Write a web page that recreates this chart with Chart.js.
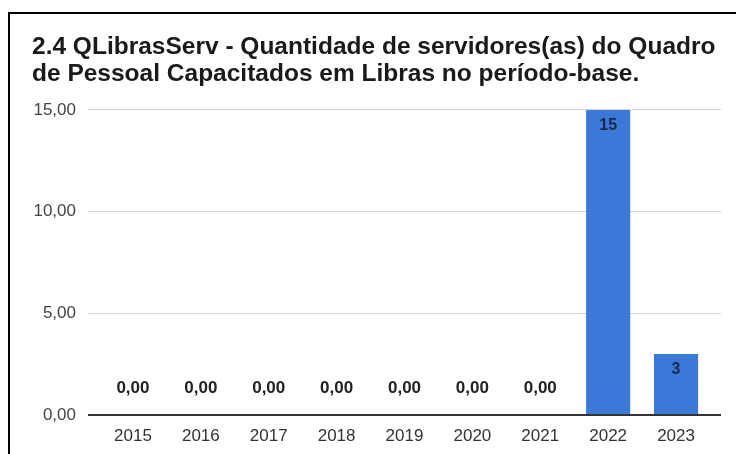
<!DOCTYPE html>
<html>
<head>
<meta charset="utf-8">
<script src="https://cdn.jsdelivr.net/npm/chart.js@4.4.1/dist/chart.umd.min.js"></script>
<style>
  html, body { margin: 0; padding: 0; background: #fff; overflow: hidden; }
  #wrap { position: relative; width: 736px; height: 454px; }
  /* black frame, only the top and left edges are inside the picture */
  #frame { position: absolute; left: 8px; top: 12px; width: 800px; height: 500px;
           border: 2px solid #000; box-sizing: border-box; }
  #chart { position: absolute; left: 0; top: 0; }
</style>
</head>
<body>
<div id="wrap">
  <div id="frame"></div>
  <canvas id="chart" width="736" height="454"></canvas>
</div>
<script>
// Data
const years = ["2015", "2016", "2017", "2018", "2019", "2020", "2021", "2022", "2023"];
const servidores = [0, 0, 0, 0, 0, 0, 0, 15, 3];
const valueLabels = ["0,00", "0,00", "0,00", "0,00", "0,00", "0,00", "0,00", "15", "3"];
const yTickLabels = ["0,00", "5,00", "10,00", "15,00"];
const titleLines = [
  "2.4 QLibrasServ - Quantidade de servidores(as) do Quadro",
  "de Pessoal Capacitados em Libras no período-base."
];

Chart.defaults.font.family = "'Liberation Sans', Arial, sans-serif";

const gridColor = ctx => (ctx.tick && ctx.tick.value === 0) ? '#333333' : '#d4d4d4';
const gridWidth = ctx => (ctx.tick && ctx.tick.value === 0) ? 2 : 1;

// draws the value labels: zeros above the baseline, others inside the top of the bar
const valueLabelPlugin = {
  id: 'valueLabels',
  afterDatasetsDraw(chart) {
    const ctx = chart.ctx;
    const meta = chart.getDatasetMeta(0);
    ctx.save();
    ctx.textAlign = 'center';
    ctx.textBaseline = 'middle';
    meta.data.forEach((bar, i) => {
      const v = servidores[i];
      if (v === 0) {
        ctx.font = "bold 17px 'Liberation Sans', Arial, sans-serif";
        ctx.fillStyle = '#222222';
        ctx.fillText(valueLabels[i], bar.x, bar.y - 27);
      } else {
        ctx.font = "bold 16px 'Liberation Sans', Arial, sans-serif";
        ctx.fillStyle = '#152a4d';
        ctx.fillText(valueLabels[i], bar.x, bar.y + 16);
      }
    });
    ctx.restore();
  }
};

new Chart(document.getElementById('chart'), {
  type: 'bar',
  data: {
    labels: years,
    datasets: [{
      data: servidores,
      backgroundColor: '#3c78d8',
      borderWidth: 0,
      barPercentage: 0.65,
      categoryPercentage: 1.0
    }]
  },
  options: {
    responsive: false,
    animation: false,
    devicePixelRatio: 1,
    layout: { padding: { left: 32, right: 15, top: 0, bottom: 0 } },
    plugins: {
      legend: { display: false },
      tooltip: { enabled: false },
      title: {
        display: true,
        text: titleLines,
        align: 'start',
        color: '#1a1a1a',
        font: { size: 24.5, weight: 'bold', lineHeight: 1.1 },
        padding: { top: 34, bottom: 22 }
      }
    },
    scales: {
      x: {
        afterFit: scale => { scale.height = 39; },
        grid: { display: false, drawTicks: false, tickLength: 0 },
        border: { display: false },
        ticks: { color: '#333333', font: { size: 17 }, padding: 11, maxRotation: 0 }
      },
      y: {
        min: 0,
        max: 15,
        afterFit: scale => { scale.width = 67; },
        border: { display: false },
        grid: { color: gridColor, tickColor: gridColor, lineWidth: gridWidth, drawTicks: true, tickLength: 11 },
        ticks: {
          stepSize: 5,
          color: '#444444',
          font: { size: 17 },
          padding: 12,
          callback: (value, index) => yTickLabels[index]
        }
      },
      yRight: {
        position: 'right',
        min: 0,
        max: 15,
        border: { display: false },
        grid: { drawOnChartArea: false, color: gridColor, tickColor: gridColor, lineWidth: gridWidth, drawTicks: true, tickLength: 11 },
        ticks: { display: false, stepSize: 5 }
      }
    }
  },
  plugins: [valueLabelPlugin]
});
</script>
</body>
</html>
